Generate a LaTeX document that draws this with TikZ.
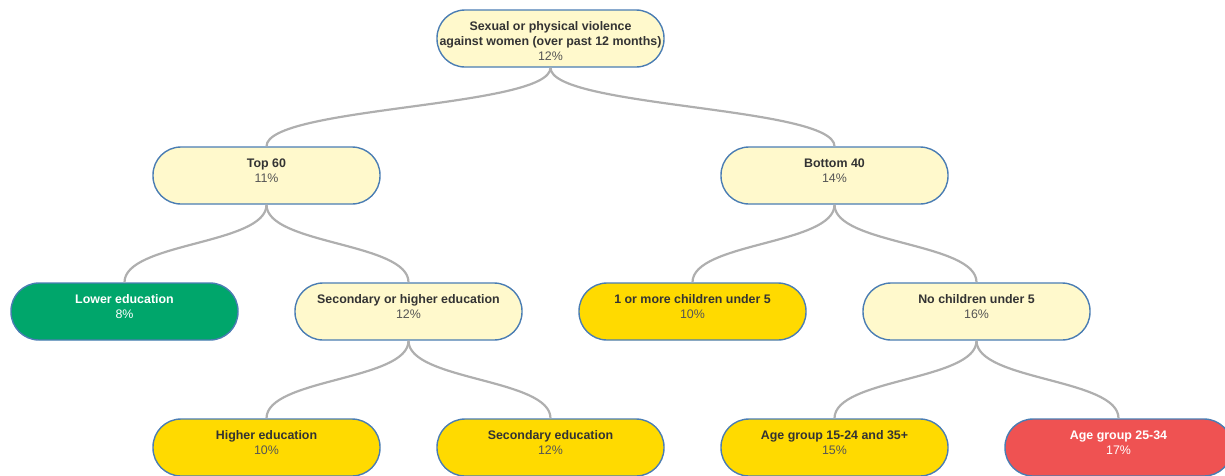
\documentclass[tikz,border=0pt]{standalone}
\usepackage{fontspec}
\setmainfont{Liberation Sans}
\begin{document}
\begin{tikzpicture}[x=1pt,y=-1pt,
  box/.style={draw=boxline, line width=1.4pt, rounded corners=28pt,
    minimum width=227pt, minimum height=57pt, inner sep=0pt},
  pale/.style={box, fill=palefill},
  gold/.style={box, fill=goldfill},
  green/.style={box, fill=greenfill},
  red/.style={box, fill=redfill},
  lbl/.style={anchor=north, inner sep=0pt, align=center,
    font=\fontsize{12.4}{15}\selectfont, text=labeltext},
  wlbl/.style={lbl, text=white},
  conn/.style={draw=connline, line width=2.2pt}
]
\definecolor{boxline}{HTML}{4A7DB3}
\definecolor{palefill}{HTML}{FFF9CC}
\definecolor{goldfill}{HTML}{FFDA00}
\definecolor{greenfill}{HTML}{00A66B}
\definecolor{redfill}{HTML}{EF5252}
\definecolor{connline}{HTML}{AFAFAF}
\definecolor{labeltext}{HTML}{333333}
\definecolor{pcttext}{HTML}{555555}
\newcommand{\pct}[1]{\textcolor{pcttext}{#1}}

\useasboundingbox (0,0) rectangle (1225,475);
\clip (0,0) rectangle (1225,475);

% boxes
\node[pale] (root) at (550.5,38.5) {};
\node[pale] (top) at (266.5,175.5) {};
\node[pale] (bot) at (834.5,175.5) {};
\node[green] (lower) at (124.5,311.5) {};
\node[pale] (sech) at (408.5,311.5) {};
\node[gold] (kids) at (692.5,311.5) {};
\node[pale] (nokids) at (976.5,311.5) {};
\node[gold] (higher) at (266.5,447.5) {};
\node[gold] (second) at (550.5,447.5) {};
\node[gold] (age1) at (834.5,447.5) {};
\node[red] (age2) at (1118.5,447.5) {};

% labels, set from the top of each box
\node[lbl] (rootL) at ([yshift=-10pt]root.north) {\strut\textbf{Sexual or physical violence}\\\textbf{against women (over past 12 months)}\\\pct{12\%}};
\node[lbl] (topL) at ([yshift=-10pt]top.north) {\strut\textbf{Top 60}\\\pct{11\%}};
\node[lbl] (botL) at ([yshift=-10pt]bot.north) {\strut\textbf{Bottom 40}\\\pct{14\%}};
\node[wlbl] (lowerL) at ([yshift=-10pt]lower.north) {\strut\textbf{Lower education}\\8\%};
\node[lbl] (sechL) at ([yshift=-10pt]sech.north) {\strut\textbf{Secondary or higher education}\\\pct{12\%}};
\node[lbl] (kidsL) at ([yshift=-10pt]kids.north) {\strut\textbf{1 or more children under 5}\\\pct{10\%}};
\node[lbl] (nokidsL) at ([yshift=-10pt]nokids.north) {\strut\textbf{No children under 5}\\\pct{16\%}};
\node[lbl] (higherL) at ([yshift=-10pt]higher.north) {\strut\textbf{Higher education}\\\pct{10\%}};
\node[lbl] (secondL) at ([yshift=-10pt]second.north) {\strut\textbf{Secondary education}\\\pct{12\%}};
\node[lbl] (age1L) at ([yshift=-10pt]age1.north) {\strut\textbf{Age group 15-24 and 35+}\\\pct{15\%}};
\node[wlbl] (age2L) at ([yshift=-10pt]age2.north) {\strut\textbf{Age group 25-34}\\17\%};

% connectors
\foreach \p/\c in {root/top, root/bot, top/lower, top/sech, bot/kids, bot/nokids,
                   sech/higher, sech/second, nokids/age1, nokids/age2}
  \draw[conn] (\p.south) .. controls +(0,40) and +(0,-40) .. (\c.north);
\end{tikzpicture}
\end{document}
